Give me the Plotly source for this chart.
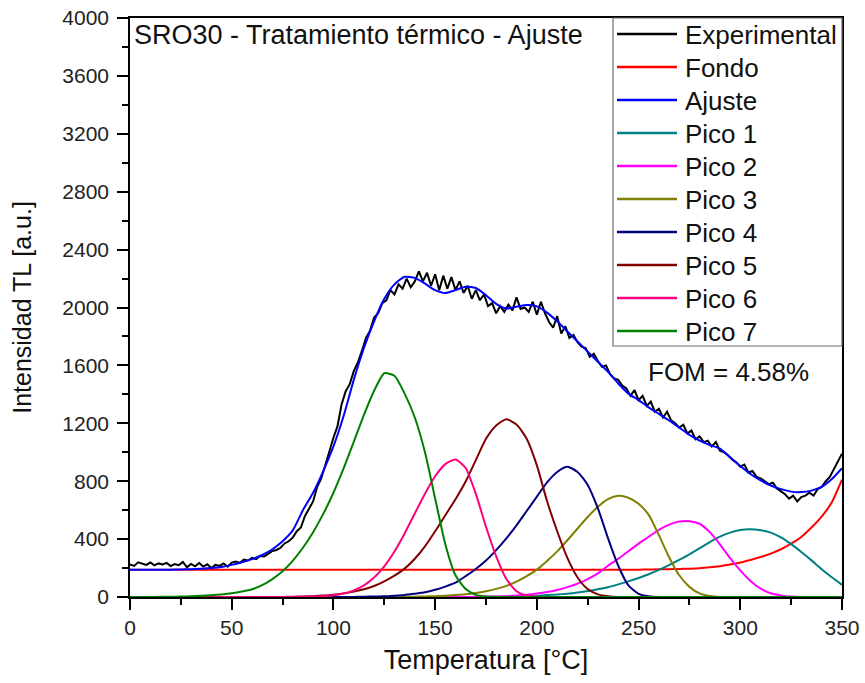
import plotly.graph_objects as go

# Temperature grid for the fitted components (°C)
temp_fit = list(range(0, 355, 5))

fondo = [188] * 50 + [189, 190, 191, 192, 194, 196, 199, 205, 213, 224, 238, 256,
                      276, 300, 330, 368, 415, 480, 555, 655, 810]

ajuste = [188, 188, 188, 188, 189, 190, 192, 195, 200, 208, 222, 240, 262, 290, 330,
          385, 460, 600, 720, 870, 1040, 1250, 1500, 1720, 1905, 2060, 2160, 2212,
          2205, 2165, 2120, 2100, 2120, 2143, 2135, 2085, 2025, 1993, 2005, 2017,
          2008, 1965, 1905, 1835, 1765, 1695, 1625, 1555, 1475, 1405, 1360, 1310,
          1265, 1220, 1170, 1120, 1080, 1050, 1025, 965, 905, 850, 805, 770, 745,
          728, 725, 735, 760, 815, 890]

pico1 = [0] * 35 + [1, 2, 3, 4, 6, 9, 13, 17, 23, 31, 41, 54, 68, 87, 108, 131, 157,
                    187, 220, 257, 295, 337, 379, 417, 445, 463, 468, 461, 445, 412,
                    365, 311, 253, 192, 136, 84]

pico2 = [0] * 34 + [1, 2, 4, 6, 10, 16, 24, 34, 49, 68, 92, 124, 163, 216, 264, 316,
                    369, 416, 464, 500, 522, 524, 506, 448, 364, 269, 184, 111, 58,
                    26, 11, 3] + [0] * 5

pico3 = [0] * 28 + [2, 4, 6, 8, 13, 19, 28, 40, 56, 77, 106, 144, 189, 249, 315, 392,
                    473, 553, 623, 676, 699, 686, 644, 567, 427, 275, 150, 70, 25, 7] + [0] * 13

pico4 = [0] * 23 + [2, 4, 5, 9, 14, 23, 33, 50, 72, 99, 144, 194, 252, 324, 405, 495,
                    594, 693, 792, 864, 900, 864, 774, 612, 405, 216, 80, 22, 5] + [0] * 19

pico5 = [0] * 16 + [2, 4, 6, 10, 16, 25, 37, 53, 76, 108, 147, 196, 264, 350, 454, 565,
                    675, 798, 946, 1093, 1185, 1228, 1191, 1093, 909, 663, 454, 270,
                    135, 55, 18, 5] + [0] * 23

pico6 = [0] * 17 + [1, 3, 6, 12, 24, 46, 81, 135, 212, 314, 439, 577, 714, 834, 918,
                    950, 891, 712, 485, 281, 125, 40, 10, 2] + [0] * 30

pico7 = [0, 0, 0, 1, 2, 3, 5, 8, 12, 18, 26, 38, 54, 82, 124, 178, 250, 340, 448, 574,
         720, 888, 1072, 1258, 1425, 1546, 1528, 1405, 1240, 1000, 680, 365, 150, 55,
         15, 3] + [0] * 35

# Measured glow curve (2 °C steps)
temp_exp = list(range(0, 352, 2))
experimental = [
    225, 215, 240, 230, 222, 238, 218, 232, 225, 236, 214, 228, 220, 242, 205, 228,
    212, 235, 210, 226, 200, 222, 215, 232, 210, 238, 245, 236, 258, 252, 270, 262,
    284, 280, 300, 318, 325, 340, 370, 385, 410, 455, 480, 560, 610, 660, 760, 820,
    910, 1010, 1100, 1180, 1330, 1420, 1470, 1560, 1620, 1700, 1790, 1840, 1930, 1960,
    2030, 2050, 2120, 2090, 2160, 2130, 2200, 2140, 2180, 2250, 2180, 2240, 2150, 2230,
    2120, 2220, 2130, 2210, 2120, 2180, 2100, 2150, 2060, 2120, 2050, 2090, 2010, 2030,
    1960, 2010, 1970, 2020, 1980, 2070, 1990, 2000, 1970, 2040, 1950, 2040, 1960, 1900,
    1860, 1940, 1820, 1870, 1790, 1810, 1760, 1730, 1720, 1660, 1680, 1630, 1590, 1600,
    1540, 1510, 1500, 1460, 1440, 1390, 1430, 1360, 1390, 1320, 1350, 1280, 1300, 1240,
    1280, 1220, 1200, 1170, 1190, 1130, 1150, 1090, 1110, 1070, 1080, 1040, 1070, 1010,
    1000, 980, 950, 930, 900, 915, 860, 870, 830, 820, 800, 780, 790, 750, 730, 710,
    680, 700, 660, 690, 700, 720, 700, 745, 760, 800, 830, 880, 930, 990]

FONT = "Arial, Liberation Sans, sans-serif"
TEXT_COLOR = "#111111"

series = [
    ("Experimental", temp_exp, experimental, "#000000", "linear"),
    ("Fondo", temp_fit, fondo, "#FF0000", "spline"),
    ("Ajuste", temp_fit, ajuste, "#0000FF", "spline"),
    ("Pico 1", temp_fit, pico1, "#008080", "spline"),
    ("Pico 2", temp_fit, pico2, "#FF00FF", "spline"),
    ("Pico 3", temp_fit, pico3, "#808000", "spline"),
    ("Pico 4", temp_fit, pico4, "#000080", "spline"),
    ("Pico 5", temp_fit, pico5, "#800000", "spline"),
    ("Pico 6", temp_fit, pico6, "#FF0080", "spline"),
    ("Pico 7", temp_fit, pico7, "#008000", "spline"),
]

# Page and plot-area geometry (pixels)
W, H = 865, 683
M_L, M_R, M_T, M_B = 130, 23, 18, 86
PLOT_W = W - M_L - M_R
PLOT_H = H - M_T - M_B


def px_x(px):
    return (px - M_L) / PLOT_W


def px_y(py):
    return (H - M_B - py) / PLOT_H


fig = go.Figure()
for name, xs, ys, color, shape in series:
    fig.add_trace(go.Scatter(
        x=xs, y=ys, name=name, mode="lines", showlegend=False,
        line=dict(color=color, width=2, shape=shape, smoothing=0.6),
    ))

axis_common = dict(
    showline=True, linecolor="#000000", linewidth=1.5, mirror=True,
    ticks="outside", ticklen=11, tickwidth=1.5, tickcolor="#000000",
    showgrid=False, zeroline=False, automargin=False,
    tickfont=dict(family=FONT, size=21, color="#222222"),
)

fig.update_xaxes(
    range=[0, 350], dtick=50, tick0=0,
    minor=dict(dtick=25, ticks="outside", ticklen=6, tickwidth=1.5, tickcolor="#000000"),
    title_text="Temperatura [°C]", title_standoff=12,
    title_font=dict(family=FONT, size=27, color=TEXT_COLOR),
    **axis_common,
)
fig.update_yaxes(
    range=[0, 4000], dtick=400, tick0=0,
    minor=dict(dtick=200, ticks="outside", ticklen=6, tickwidth=1.5, tickcolor="#000000"),
    title_text="Intensidad TL [a.u.]", title_standoff=24,
    title_font=dict(family=FONT, size=25, color=TEXT_COLOR),
    ticklabelstandoff=4,
    **axis_common,
)

fig.add_annotation(
    text="SRO30 - Tratamiento térmico - Ajuste", xref="paper", yref="paper",
    x=px_x(132), y=1.0, xanchor="left", yanchor="top", showarrow=False,
    font=dict(family=FONT, size=27, color=TEXT_COLOR),
)
fig.add_annotation(
    text="FOM = 4.58%", xref="paper", yref="paper",
    x=px_x(728), y=px_y(372), xanchor="center", yanchor="middle", showarrow=False,
    font=dict(family=FONT, size=26, color=TEXT_COLOR),
)

# Legend box in the upper-right corner of the frame
LEG_LEFT, LEG_RIGHT, LEG_TOP, LEG_BOTTOM = 613, 842, 18, 346
ROW0, ROW_STEP = 34, 33
fig.add_shape(
    type="rect", xref="paper", yref="paper", layer="above",
    x0=px_x(LEG_LEFT), x1=px_x(LEG_RIGHT), y0=px_y(LEG_BOTTOM), y1=px_y(LEG_TOP),
    line=dict(color="#6e6e6e", width=1.2), fillcolor="white",
)
for i, (name, _xs, _ys, color, _shape) in enumerate(series):
    row = ROW0 + ROW_STEP * i
    fig.add_shape(
        type="line", xref="paper", yref="paper", layer="above",
        x0=px_x(617), x1=px_x(677), y0=px_y(row), y1=px_y(row),
        line=dict(color=color, width=2.5),
    )
    fig.add_annotation(
        text=name, xref="paper", yref="paper",
        x=px_x(683), y=px_y(row + 1), xanchor="left", yanchor="middle",
        showarrow=False, font=dict(family=FONT, size=26, color=TEXT_COLOR),
    )

fig.update_layout(
    width=W, height=H,
    margin=dict(l=M_L, r=M_R, t=M_T, b=M_B),
    paper_bgcolor="white", plot_bgcolor="white",
    showlegend=False,
)

fig.write_html("out.html")
